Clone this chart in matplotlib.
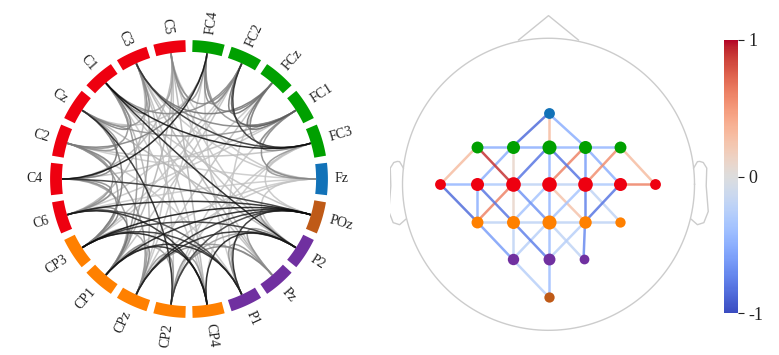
import numpy as np
import matplotlib as mpl
import matplotlib.pyplot as plt
from matplotlib.path import Path
from matplotlib.patches import PathPatch

plt.rcParams['font.family'] = ['Liberation Serif', 'DejaVu Serif']

channels = ["Fz", "FC3", "FC1", "FCz", "FC2", "FC4",
            "C5", "C3", "C1", "Cz", "C2", "C4", "C6",
            "CP3", "CP1", "CPz", "CP2", "CP4",
            "P1", "Pz", "P2", "POz"]
groups = ["F"] + ["FC"] * 5 + ["C"] * 7 + ["CP"] * 5 + ["P"] * 3 + ["PO"]
group_colors = {"F": "#1272b8", "FC": "#00a000", "C": "#ee0010",
                "CP": "#ff8000", "P": "#7030a0", "PO": "#bf5a17"}

# electrode positions on the head (head radius = 1)
head_x = [0.0, -0.49, -0.245, 0.0, 0.25, 0.49,
          -0.74, -0.49, -0.245, 0.0, 0.25, 0.49, 0.73,
          -0.49, -0.245, 0.0, 0.25, 0.49,
          -0.245, 0.0, 0.24, 0.0]
head_y = [0.486, 0.258, 0.258, 0.258, 0.258, 0.258,
          0.0, 0.0, 0.0, 0.0, 0.0, 0.0, 0.0,
          -0.256, -0.256, -0.256, -0.256, -0.256,
          -0.514, -0.514, -0.514, -0.77]
node_diam = [10, 11, 12, 13, 12, 11,
             10, 12, 13.5, 13.5, 13.5, 12, 10,
             11, 12, 13, 11.5, 9.5,
             10.5, 11, 9, 9.5]

# connections in the circle plot (0 light grey .. 1 black)
circle_edges = [
    ("POz", "CP3", 0.95), ("POz", "CP1", 0.9), ("POz", "CPz", 0.85), ("POz", "C6", 0.9),
    ("POz", "P1", 0.85), ("POz", "CP2", 0.75), ("POz", "C4", 0.8),
    ("CP4", "CP3", 0.9), ("CP4", "C6", 0.85), ("CP4", "CP1", 0.85), ("CP4", "P2", 0.9),
    ("C1", "P2", 0.9), ("P1", "CP1", 0.85), ("P1", "CP3", 0.8), ("P2", "CPz", 0.85),
    ("P2", "CP3", 0.8), ("P1", "C6", 0.7),
    ("C4", "FC4", 0.95), ("FC3", "C1", 0.95), ("FC3", "C3", 0.8), ("Cz", "CP2", 0.85),
    ("FC2", "FC3", 0.8),
    ("FC4", "FC2", 0.4), ("FC4", "FCz", 0.45), ("FC2", "FCz", 0.5), ("FC2", "FC1", 0.6),
    ("FCz", "FC1", 0.5), ("FCz", "FC3", 0.45), ("FC1", "FC3", 0.4), ("Fz", "FC1", 0.4),
    ("Fz", "FC3", 0.35), ("FC4", "FC1", 0.35),
    ("C3", "C1", 0.4), ("C1", "Cz", 0.45), ("Cz", "C2", 0.35), ("C2", "C4", 0.45),
    ("C4", "C6", 0.4), ("C3", "Cz", 0.35), ("C1", "C2", 0.35), ("C5", "C1", 0.3),
    ("Cz", "C4", 0.5), ("C2", "C6", 0.35),
    ("C1", "FC2", 0.4), ("C3", "FCz", 0.5), ("Cz", "FC1", 0.35), ("C2", "FC4", 0.45),
    ("C5", "FC4", 0.35), ("C5", "FC2", 0.4), ("C3", "FC1", 0.45),
    ("CP3", "CP1", 0.35), ("CP1", "CPz", 0.4), ("CPz", "CP2", 0.35), ("CP2", "CP4", 0.35),
    ("CP3", "CPz", 0.3), ("CP1", "CP2", 0.3),
    ("P1", "Pz", 0.35), ("Pz", "P2", 0.35), ("P1", "P2", 0.3), ("Pz", "CP2", 0.4),
    ("Pz", "CPz", 0.35), ("P2", "CP2", 0.3), ("P2", "POz", 0.35),
    ("C6", "CP3", 0.45), ("C4", "CP3", 0.4), ("C6", "CP1", 0.5), ("C4", "CP1", 0.3),
    ("C2", "CP3", 0.35), ("Cz", "CP3", 0.45), ("C1", "CP1", 0.35), ("C3", "CP1", 0.3),
    ("C2", "CPz", 0.35),
    ("C5", "Fz", 0.12), ("C3", "Fz", 0.12), ("C1", "POz", 0.15), ("Cz", "P2", 0.2),
    ("C2", "Fz", 0.1), ("C2", "P1", 0.12), ("C6", "FC1", 0.12), ("CP1", "FC2", 0.15),
    ("CPz", "FC4", 0.12), ("CP2", "C3", 0.15), ("CP2", "FC3", 0.12), ("CP4", "C5", 0.2),
    ("Pz", "C1", 0.15), ("Pz", "C3", 0.2), ("P2", "C5", 0.12), ("CPz", "C5", 0.15),
    ("CP3", "FC2", 0.12), ("CP1", "C5", 0.2), ("C6", "FC2", 0.12), ("C4", "FC1", 0.15),
    ("C2", "FC3", 0.15), ("Cz", "FC4", 0.15), ("C6", "Fz", 0.1), ("CP3", "FCz", 0.12),
    ("CPz", "C1", 0.2), ("P2", "C3", 0.15), ("CP4", "FC3", 0.1), ("C5", "Pz", 0.12),
    ("C3", "CP4", 0.15), ("C1", "CP4", 0.12), ("Fz", "CP1", 0.1), ("Fz", "CPz", 0.12),
    ("FC1", "CP2", 0.12), ("FCz", "CPz", 0.15), ("FCz", "P1", 0.12), ("FC4", "P1", 0.1),
    ("FC3", "POz", 0.12), ("C5", "C4", 0.2), ("C3", "C6", 0.2), ("Fz", "P2", 0.12),
]

# connections on the head (coolwarm, -1 .. 1)
head_edges = [
    ("Fz", "FC1", -0.85), ("Fz", "FCz", 0.3), ("Fz", "FC2", -0.5),
    ("FC3", "FC1", -0.5), ("FC1", "FCz", -0.5), ("FCz", "FC2", -0.45), ("FC2", "FC4", -0.45),
    ("FC3", "C5", 0.3), ("FC3", "C1", 0.9), ("FC1", "C3", -0.5), ("FC1", "C1", 0.1),
    ("FCz", "C1", -0.8), ("FCz", "Cz", -0.45), ("FCz", "C2", -0.8), ("FC2", "Cz", 0.6),
    ("FC2", "C2", -0.6), ("FC2", "C4", -0.5), ("FC4", "C2", 0.55), ("FC4", "C6", 0.3),
    ("C5", "C3", -0.45), ("C3", "C1", -0.3), ("C1", "Cz", -0.2), ("Cz", "C2", -0.2),
    ("C2", "C4", -0.3), ("C4", "C6", 0.6),
    ("C5", "CP3", -0.85), ("C3", "CP3", -0.5), ("C3", "CP1", -0.8), ("C1", "CP3", 0.6),
    ("C1", "CP1", 0.1), ("C1", "CPz", -0.65), ("Cz", "CP1", -0.35), ("Cz", "CPz", -0.45),
    ("Cz", "CP2", 0.25), ("C2", "CPz", -0.35), ("C2", "CP2", -0.75), ("C2", "CP4", -0.2),
    ("C4", "CP2", -0.8),
    ("CP3", "CP1", -0.2), ("CP1", "CPz", -0.2), ("CPz", "CP2", -0.2), ("CP2", "CP4", -0.2),
    ("CP3", "P1", -0.6), ("CP1", "P1", -0.2), ("CP1", "Pz", -0.75), ("CPz", "P1", -0.25),
    ("CPz", "Pz", -0.4), ("CPz", "P2", -0.2), ("CP2", "Pz", -0.25), ("CP2", "P2", -0.7),
    ("P1", "POz", -0.25), ("Pz", "POz", -0.4),
]

fig = plt.figure(figsize=(7.79, 3.55), dpi=100)

# ---------------- circle plot ----------------
ax1 = fig.add_axes([0, 0, 380 / 779, 1])
ax1.set_xlim(-189, 191)
ax1.set_ylim(-176, 179)
ax1.axis("off")

n = len(channels)
step = 2 * np.pi / n
angles = np.arange(n) * step
R = 133
r_in = 127
idx = {ch: i for i, ch in enumerate(channels)}

for (a, b, w) in sorted(circle_edges, key=lambda e: e[2]):
    ta, tb = angles[idx[a]], angles[idx[b]]
    p0 = (r_in * np.cos(ta), r_in * np.sin(ta))
    p1 = (0.5 * r_in * np.cos(ta), 0.5 * r_in * np.sin(ta))
    p2 = (0.5 * r_in * np.cos(tb), 0.5 * r_in * np.sin(tb))
    p3 = (r_in * np.cos(tb), r_in * np.sin(tb))
    path = Path([p0, p1, p2, p3], [Path.MOVETO, Path.CURVE4, Path.CURVE4, Path.CURVE4])
    g = 0.87 * (1 - w)
    ax1.add_patch(PathPatch(path, fc="none", ec=(g, g, g), lw=1.1, alpha=0.85))

for i, ch in enumerate(channels):
    t = np.linspace(angles[i] - step * 0.41, angles[i] + step * 0.41, 30)
    ax1.plot(R * np.cos(t), R * np.sin(t), color=group_colors[groups[i]],
             lw=8.5, solid_capstyle="butt")
    deg = np.degrees(angles[i])
    if 90 < deg < 270:
        rot, ha = deg - 180, "right"
    else:
        rot, ha = (deg if deg <= 90 else deg - 360), "left"
    ax1.text(146 * np.cos(angles[i]), 146 * np.sin(angles[i]), ch, rotation=rot,
             rotation_mode="anchor", ha=ha, va="center", fontsize=10, color="#222222")

# ---------------- head plot ----------------
ax2 = fig.add_axes([390 / 779, 0, 320 / 779, 1])
ax2.set_xlim(-1.0856, 1.106)
ax2.set_ylim(-1.169, 1.262)
ax2.axis("off")

hc = "#cccccc"
th = np.linspace(0, 2 * np.pi, 200)
ax2.plot(np.cos(th), np.sin(th), color=hc, lw=1)
ax2.plot([-0.205, 0, 0.205], [0.988, 1.155, 0.988], color=hc, lw=1)
ear_x = np.array([.497, .510, .518, .5299, .5419, .54, .547, .532, .510, .489]) * 2
ear_y = np.array([.0555, .0775, .0783, .0746, .0555, -.0055, -.0932, -.1313, -.1384, -.1199]) * 2
ax2.plot(ear_x, ear_y, color=hc, lw=1)
ax2.plot(-ear_x, ear_y, color=hc, lw=1)

cmap = plt.get_cmap("coolwarm")
norm = mpl.colors.Normalize(-1, 1)
for (a, b, v) in sorted(head_edges, key=lambda e: abs(e[2])):
    i, j = idx[a], idx[b]
    ax2.plot([head_x[i], head_x[j]], [head_y[i], head_y[j]], color=cmap(norm(v)),
             lw=1.8, alpha=0.85, solid_capstyle="round", zorder=2)

for i, ch in enumerate(channels):
    ax2.plot(head_x[i], head_y[i], "o", ms=node_diam[i] * 0.78,
             color=group_colors[groups[i]], mec="none", zorder=3)

# ---------------- colorbar ----------------
cax = fig.add_axes([724 / 779, 42 / 355, 14 / 779, 273 / 355])
cb = fig.colorbar(mpl.cm.ScalarMappable(norm=norm, cmap=cmap), cax=cax, ticks=[-1, 0, 1])
cb.outline.set_visible(False)
cb.ax.set_yticklabels(["-1", "0", "1"])
cb.ax.tick_params(labelsize=13, length=4, width=0.8, colors="#222222")

fig.savefig("out.png", dpi=100)
